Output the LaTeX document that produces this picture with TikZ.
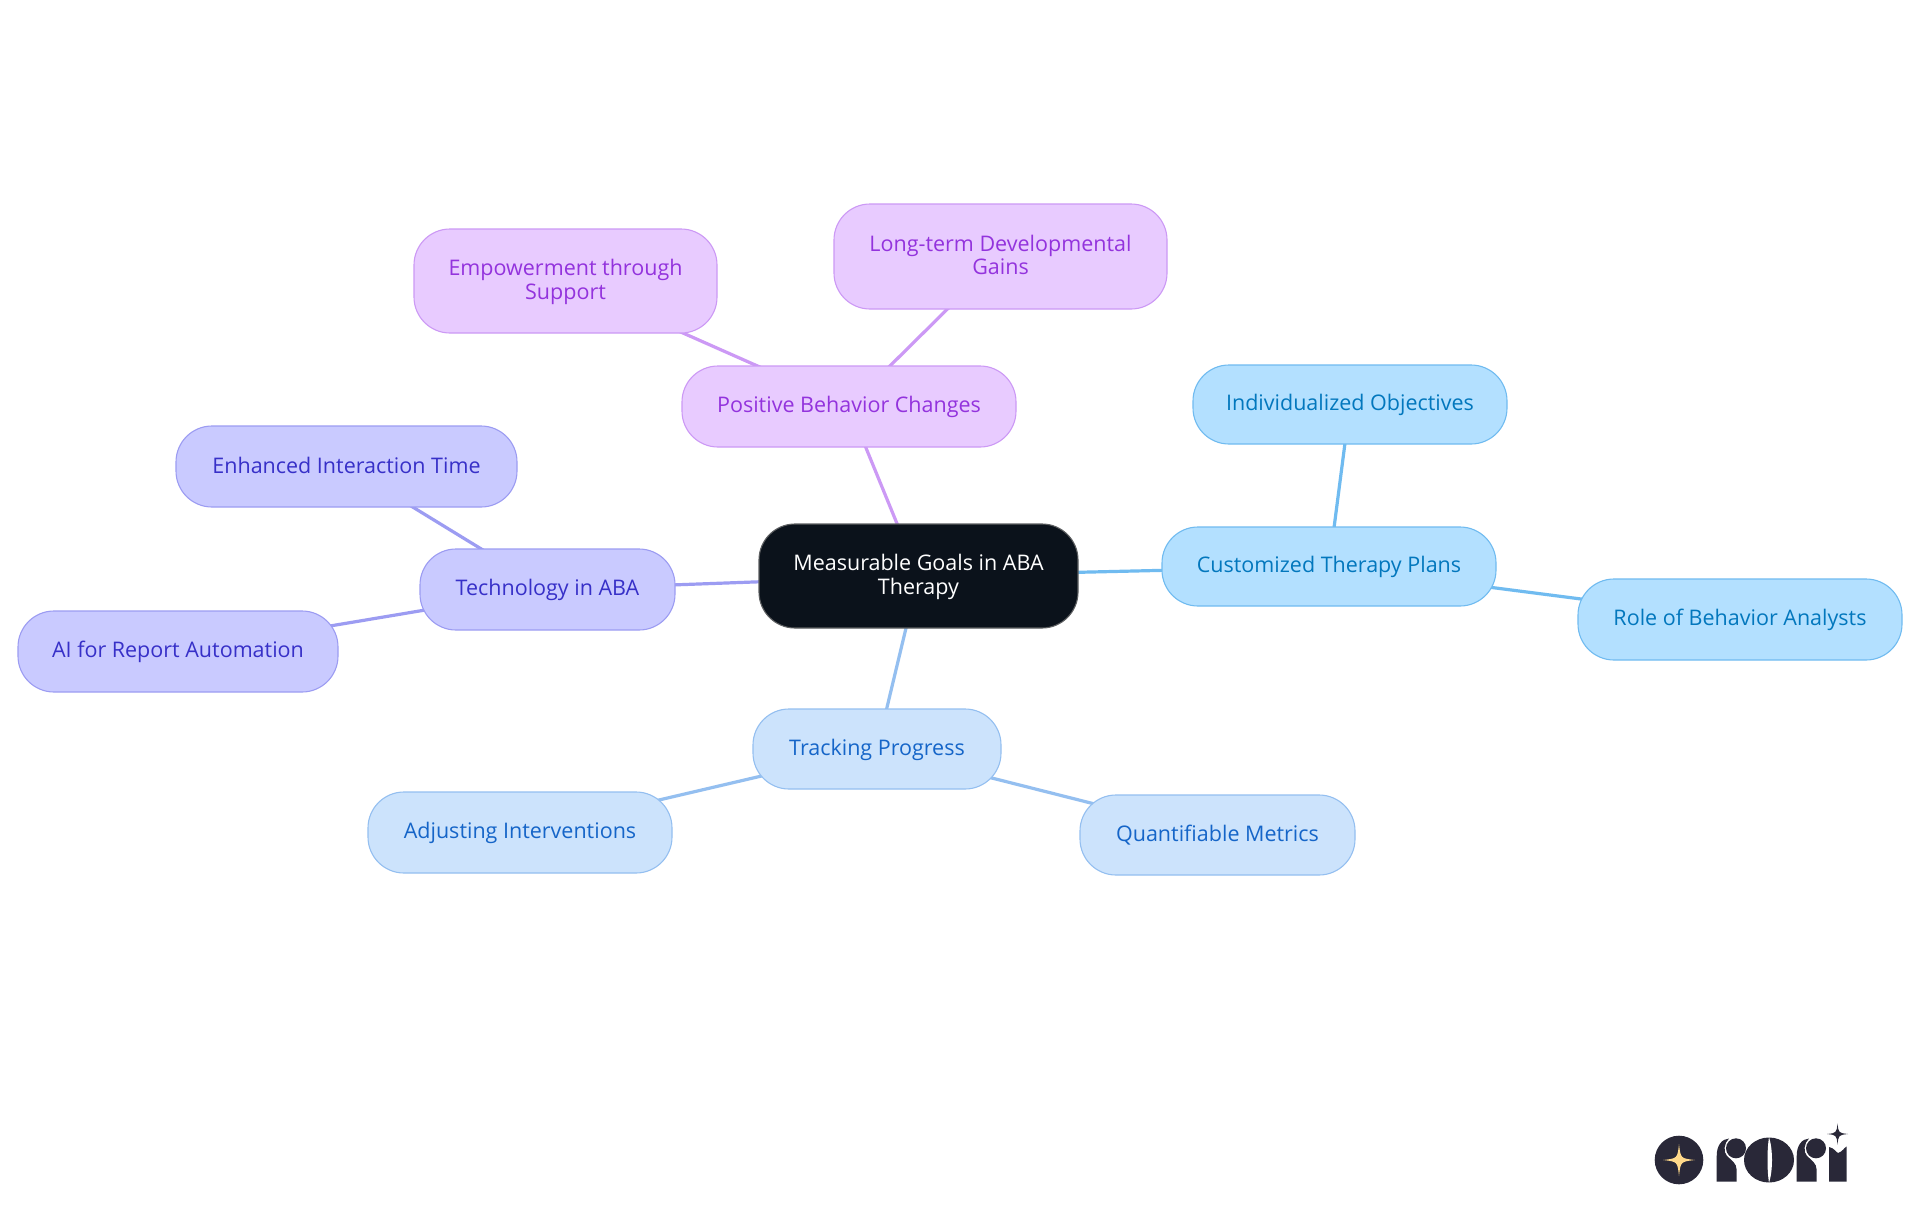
\documentclass[tikz,border=0pt]{standalone}
\usepackage{fontspec}
\setmainfont{Open Sans}
\usetikzlibrary{backgrounds}
\definecolor{cyF}{HTML}{B3E0FF}\definecolor{cyS}{HTML}{70BBF0}\definecolor{cyT}{HTML}{0277BD}
\definecolor{blF}{HTML}{CCE3FC}\definecolor{blS}{HTML}{94BFF0}\definecolor{blT}{HTML}{1565C8}
\definecolor{inF}{HTML}{C9CAFF}\definecolor{inS}{HTML}{9C9CF2}\definecolor{inT}{HTML}{3730C8}
\definecolor{puF}{HTML}{E8CBFF}\definecolor{puS}{HTML}{CC99F5}\definecolor{puT}{HTML}{9333DD}
\definecolor{rootF}{HTML}{0B121B}\definecolor{logoD}{HTML}{292838}\definecolor{logoY}{HTML}{FFD98A}
\newcommand{\lst}{\rule[-5pt]{0pt}{23pt}}
\tikzset{
  mm/.style={draw,line width=1.1pt,rounded corners=36pt,align=center,inner sep=0pt,font=\fontsize{21.5}{23.5}\selectfont},
  cyan node/.style={mm,fill=cyF,draw=cyS,text=cyT},
  blue node/.style={mm,fill=blF,draw=blS,text=blT},
  indigo node/.style={mm,fill=inF,draw=inS,text=inT},
  purple node/.style={mm,fill=puF,draw=puS,text=puT},
  root node/.style={mm,fill=rootF,draw=gray!70!rootF,text=white},
  edge line/.style={line width=3.2pt},
}
\newcommand{\mmnode}[7]{% style,name,x0,x1,y0,y1,text
  \node[#1,minimum width=#4pt-#3pt,minimum height=#6pt-#5pt] (#2) at ({(#3+#4)/2},{(#5+#6)/2}) {#7};}
\newcommand{\fourstar}[4]{% cx,cy,r,colour
  \fill[#4] (#1,#2-#3) .. controls (#1+.1*#3,#2-.1*#3) .. (#1+#3,#2)
    .. controls (#1+.1*#3,#2+.1*#3) .. (#1,#2+#3)
    .. controls (#1-.1*#3,#2+.1*#3) .. (#1-#3,#2)
    .. controls (#1-.1*#3,#2-.1*#3) .. cycle;}
\newcommand{\logor}[1]{% x offset
  \begin{scope}[xshift=#1pt]
  \fill[logoD] (1716.7,1181.7) -- (1716.7,1156) .. controls (1716.7,1145) and (1722,1139) .. (1729,1138.5)
     .. controls (1724,1143) and (1723,1152) .. (1727,1156) .. controls (1731,1160) and (1736.7,1163) .. (1736.7,1170)
     -- (1736.7,1181.7) -- cycle;
  \fill[logoD] (1736,1148.3) circle[radius=10];
  \end{scope}}
\begin{document}
\begin{tikzpicture}[x=1pt,y=-1pt]
\useasboundingbox (0,0) rectangle (1920,1215);
\mmnode{root node}{root}{759}{1078}{524}{628}{\lst Measurable Goals in ABA\\\lst Therapy}
\mmnode{cyan node}{plans}{1162}{1496}{527}{606}{\lst Customized Therapy Plans}
\mmnode{cyan node}{objectives}{1193}{1507}{365}{444}{\lst Individualized Objectives}
\mmnode{cyan node}{analysts}{1578}{1902}{579}{660}{\lst Role of Behavior Analysts}
\mmnode{blue node}{tracking}{753}{1001}{709}{789}{\lst Tracking Progress}
\mmnode{blue node}{metrics}{1080}{1355}{795}{875}{\lst Quantifiable Metrics}
\mmnode{blue node}{adjusting}{368}{672}{792}{873}{\lst Adjusting Interventions}
\mmnode{indigo node}{tech}{420}{675}{549}{630}{\lst Technology in ABA}
\mmnode{indigo node}{interaction}{176}{517}{426}{507}{\lst Enhanced Interaction Time}
\mmnode{indigo node}{ai}{18}{338}{611}{692}{\lst AI for Report Automation}
\mmnode{purple node}{positive}{682}{1016}{366}{447}{\lst Positive Behavior Changes}
\mmnode{purple node}{empower}{414}{717}{229}{333}{\lst Empowerment through\\\lst Support}
\mmnode{purple node}{longterm}{834}{1167}{204}{309}{\lst Long-term Developmental\\\lst Gains}
\begin{scope}[on background layer]
\fill[white] (0,0) rectangle (1920,1215);
\draw[edge line,cyS] (root.center) -- (plans.center);
\draw[edge line,cyS] (plans.center) -- (objectives.center);
\draw[edge line,cyS] (plans.center) -- (analysts.center);
\draw[edge line,blS] (root.center) -- (tracking.center);
\draw[edge line,blS] (tracking.center) -- (metrics.center);
\draw[edge line,blS] (tracking.center) -- (adjusting.center);
\draw[edge line,inS] (root.center) -- (tech.center);
\draw[edge line,inS] (tech.center) -- (interaction.center);
\draw[edge line,inS] (tech.center) -- (ai.center);
\draw[edge line,puS] (root.center) -- (positive.center);
\draw[edge line,puS] (positive.center) -- (empower.center);
\draw[edge line,puS] (positive.center) -- (longterm.center);
\end{scope}
% logo
\fill[logoD] (1679,1160) circle[radius=24.3];
\fourstar{1679}{1160}{16}{logoY}
\logor{0}
\logor{80}
\fill[logoD] (1769,1160) ellipse[x radius=25,y radius=22.5];
\fill[white] (1769,1137) .. controls (1767,1150) and (1767,1170) .. (1769,1183) .. controls (1773,1170) and (1773,1150) .. (1769,1137) -- cycle;
\fill[logoD] (1829,1181.7) -- (1829,1147) .. controls (1834,1148) and (1836,1152) .. (1838,1153)
   .. controls (1842,1152) and (1844,1148) .. (1846.5,1146.5) -- (1846.5,1181.7) -- cycle;
\fourstar{1837.5}{1134}{10.5}{logoD}
\end{tikzpicture}
\end{document}
